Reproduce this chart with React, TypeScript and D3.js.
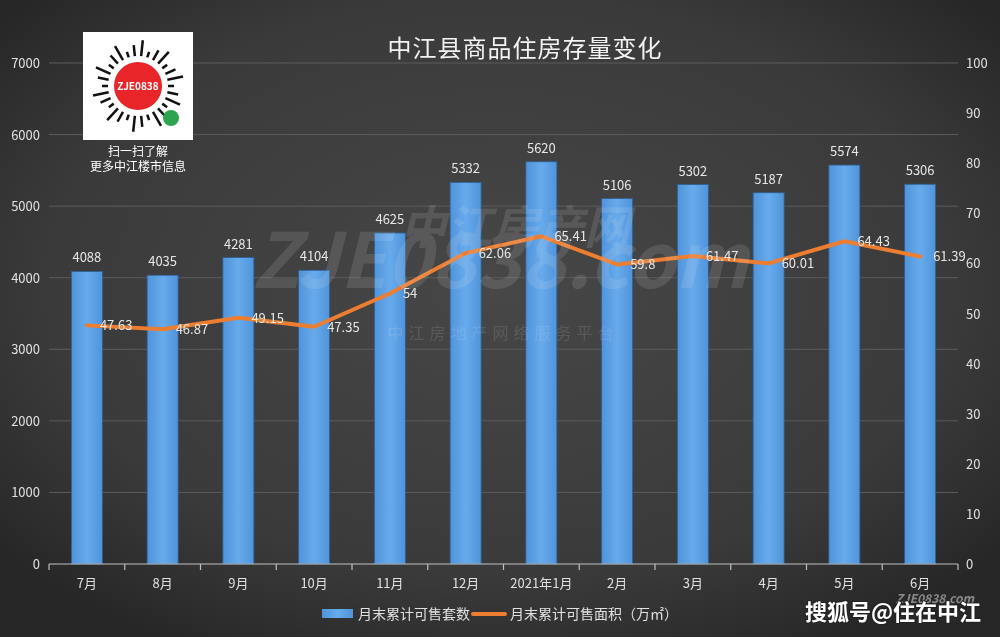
import React, { useRef, useEffect } from "react";
import * as d3 from "d3";

const months = ["7月", "8月", "9月", "10月", "11月", "12月", "2021年1月", "2月", "3月", "4月", "5月", "6月"];
const unitCounts = [4088, 4035, 4281, 4104, 4625, 5332, 5620, 5106, 5302, 5187, 5574, 5306];
const areaValues = [47.63, 46.87, 49.15, 47.35, 54, 62.06, 65.41, 59.8, 61.47, 60.01, 64.43, 61.39];
const leftTicks = [0, 1000, 2000, 3000, 4000, 5000, 6000, 7000];
const rightTicks = [0, 10, 20, 30, 40, 50, 60, 70, 80, 90, 100];

const W = 1000;
const H = 637;
const FONT = "'Noto Sans CJK SC', 'Noto Sans', sans-serif";

const App: React.FC = () => {
	const svgRef = useRef<SVGSVGElement | null>(null);

	useEffect(() => {
		if (!svgRef.current) return;
		const svg = d3.select(svgRef.current);
		svg.selectAll("*").remove();

		const left = 49, right = 958, top = 63, bottom = 564;

		const x = d3.scaleBand<string>().domain(months).range([left, right]);
		const yL = d3.scaleLinear().domain([0, 7000]).range([bottom, top]);
		const yR = d3.scaleLinear().domain([0, 100]).range([bottom, top]);

		const defs = svg.append("defs");
		const bg = defs.append("radialGradient").attr("id", "bg").attr("cx", "50%").attr("cy", "45%").attr("r", "65%");
		bg.append("stop").attr("offset", "0%").attr("stop-color", "#474747");
		bg.append("stop").attr("offset", "70%").attr("stop-color", "#3a3a3a");
		bg.append("stop").attr("offset", "100%").attr("stop-color", "#272727");

		const barGrad = defs.append("linearGradient").attr("id", "barg").attr("x1", "0").attr("x2", "1").attr("y1", "0").attr("y2", "0");
		barGrad.append("stop").attr("offset", "0%").attr("stop-color", "#4f93da");
		barGrad.append("stop").attr("offset", "50%").attr("stop-color", "#68abec");
		barGrad.append("stop").attr("offset", "100%").attr("stop-color", "#4f93da");

		svg.append("rect").attr("width", W).attr("height", H).attr("fill", "url(#bg)");

		// gridlines
		svg.append("g").selectAll("line").data(leftTicks.slice(1)).enter().append("line")
			.attr("x1", left).attr("x2", right)
			.attr("y1", (d) => yL(d)).attr("y2", (d) => yL(d))
			.attr("stroke", "#5c5c5c").attr("stroke-width", 1);

		// bars
		svg.append("g").selectAll("rect").data(unitCounts).enter().append("rect")
			.attr("x", (_, i) => (x(months[i]) as number) + (x.bandwidth() - 31) / 2)
			.attr("width", 31)
			.attr("y", (d) => yL(d))
			.attr("height", (d) => bottom - yL(d))
			.attr("fill", "url(#barg)")
			.attr("stroke", "#2f5f92").attr("stroke-width", 0.8);

		svg.append("g").selectAll("text").data(unitCounts).enter().append("text")
			.attr("x", (_, i) => (x(months[i]) as number) + x.bandwidth() / 2)
			.attr("y", (d) => yL(d) - 9)
			.attr("text-anchor", "middle")
			.attr("font-family", FONT).attr("font-size", 13).attr("fill", "#e6e6e6")
			.text((d) => d);

		// axis line
		const ax = svg.append("g").attr("stroke", "#bfbfbf").attr("stroke-width", 1.2);
		ax.append("line").attr("x1", left).attr("x2", right).attr("y1", bottom).attr("y2", bottom);
		const bounds = months.map((m) => x(m) as number).concat([right]);
		ax.selectAll("line.tick").data(bounds).enter().append("line").attr("class", "tick")
			.attr("x1", (d) => d).attr("x2", (d) => d).attr("y1", bottom).attr("y2", bottom + 6);

		svg.append("g").selectAll("text").data(months).enter().append("text")
			.attr("x", (d) => (x(d) as number) + x.bandwidth() / 2)
			.attr("y", 588)
			.attr("text-anchor", "middle")
			.attr("font-family", FONT).attr("font-size", 13).attr("fill", "#e0e0e0")
			.text((d) => d);

		// y axis labels
		svg.append("g").selectAll("text").data(leftTicks).enter().append("text")
			.attr("x", 40).attr("y", (d) => yL(d) + 5)
			.attr("text-anchor", "end")
			.attr("font-family", FONT).attr("font-size", 13).attr("fill", "#e0e0e0")
			.text((d) => d);
		svg.append("g").selectAll("text").data(rightTicks).enter().append("text")
			.attr("x", 966).attr("y", (d) => yR(d) + 5)
			.attr("text-anchor", "start")
			.attr("font-family", FONT).attr("font-size", 13).attr("fill", "#e0e0e0")
			.text((d) => d);

		// line
		const line = d3.line<number>()
			.x((_, i) => (x(months[i]) as number) + x.bandwidth() / 2)
			.y((d) => yR(d));
		svg.append("path").datum(areaValues).attr("d", line)
			.attr("fill", "none").attr("stroke", "#ed7d31").attr("stroke-width", 4)
			.attr("stroke-linejoin", "round").attr("stroke-linecap", "round");

		svg.append("g").selectAll("text").data(areaValues).enter().append("text")
			.attr("x", (_, i) => (x(months[i]) as number) + x.bandwidth() / 2 + 13)
			.attr("y", (d) => yR(d) + 5)
			.attr("font-family", FONT).attr("font-size", 13).attr("fill", "#e6e6e6")
			.text((d) => d);

		// faint watermark, drawn over the marks like the original
		const wm = svg.append("g").attr("opacity", 0.12).attr("fill", "#ececec").attr("font-family", FONT);
		wm.append("text").attr("x", 500).attr("y", 288).attr("text-anchor", "middle")
			.attr("font-size", 76).attr("font-weight", "bold").attr("font-style", "italic").text("ZJE0838.com");
		wm.append("text").attr("x", 515).attr("y", 244).attr("text-anchor", "middle")
			.attr("font-size", 46).attr("font-weight", "bold").attr("font-style", "italic").text("中江房产网");
		wm.append("text").attr("x", 503).attr("y", 339).attr("text-anchor", "middle")
			.attr("font-size", 16).attr("letter-spacing", 5).text("中江房地产网络服务平台");

		// title
		svg.append("text").attr("x", 525).attr("y", 57).attr("text-anchor", "middle")
			.attr("font-family", FONT).attr("font-size", 24).attr("fill", "#f2f2f2").attr("letter-spacing", 1)
			.text("中江县商品住房存量变化");

		// QR block
		const qr = svg.append("g");
		qr.append("rect").attr("x", 83).attr("y", 32).attr("width", 110).attr("height", 108).attr("fill", "#ffffff");
		const rays = d3.range(0, 360, 12);
		qr.append("g").selectAll("line").data(rays).enter().append("line")
			.attr("x1", (d) => 138 + Math.cos((d * Math.PI) / 180) * 30)
			.attr("y1", (d) => 86 + Math.sin((d * Math.PI) / 180) * 30)
			.attr("x2", (d, i) => 138 + Math.cos((d * Math.PI) / 180) * (36 + (i % 3) * 5))
			.attr("y2", (d, i) => 86 + Math.sin((d * Math.PI) / 180) * (36 + (i % 3) * 5))
			.attr("stroke", "#111").attr("stroke-width", 2.5);
		qr.append("circle").attr("cx", 138).attr("cy", 86).attr("r", 24).attr("fill", "#e8262a");
		qr.append("text").attr("x", 138).attr("y", 90).attr("text-anchor", "middle")
			.attr("font-family", FONT).attr("font-size", 10).attr("font-weight", "bold").attr("fill", "#fff").text("ZJE0838");
		qr.append("circle").attr("cx", 171).attr("cy", 118).attr("r", 8).attr("fill", "#2ea44f");
		qr.append("text").attr("x", 138).attr("y", 156).attr("text-anchor", "middle")
			.attr("font-family", FONT).attr("font-size", 12).attr("fill", "#fff").text("扫一扫了解");
		qr.append("text").attr("x", 138).attr("y", 171).attr("text-anchor", "middle")
			.attr("font-family", FONT).attr("font-size", 12).attr("fill", "#fff").text("更多中江楼市信息");

		// legend
		const lg = svg.append("g").attr("font-family", FONT).attr("font-size", 14).attr("fill", "#e0e0e0");
		lg.append("rect").attr("x", 322).attr("y", 609).attr("width", 31).attr("height", 9).attr("fill", "url(#barg)");
		lg.append("text").attr("x", 358).attr("y", 619).text("月末累计可售套数");
		lg.append("line").attr("x1", 473).attr("x2", 505).attr("y1", 614).attr("y2", 614)
			.attr("stroke", "#ed7d31").attr("stroke-width", 4).attr("stroke-linecap", "round");
		lg.append("text").attr("x", 510).attr("y", 619).text("月末累计可售面积（万㎡）");

		// source watermark
		svg.append("text").attr("x", 935).attr("y", 603).attr("text-anchor", "middle")
			.attr("font-family", FONT).attr("font-size", 12).attr("font-weight", "bold").attr("font-style", "italic")
			.attr("fill", "#ffffff").attr("opacity", 0.45).text("ZJE0838.com");
		svg.append("text").attr("x", 893).attr("y", 620).attr("text-anchor", "middle")
			.attr("font-family", FONT).attr("font-size", 22).attr("font-weight", "bold")
			.attr("fill", "#ffffff").style("paint-order", "stroke").attr("stroke", "#222").attr("stroke-width", 2)
			.text("搜狐号@住在中江");
	}, []);

	return (
		<div style={{ position: "fixed", left: 0, top: 0 }}>
			<svg ref={svgRef} width={W} height={H} style={{ display: "block" }} />
		</div>
	);
};

export default App;
